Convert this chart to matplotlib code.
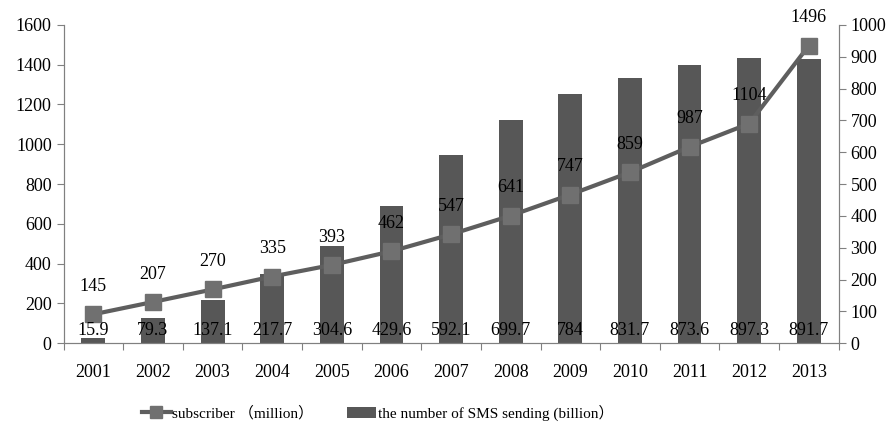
import matplotlib
matplotlib.use('Agg')
import matplotlib.pyplot as plt
from matplotlib.lines import Line2D
from matplotlib.patches import Patch
import numpy as np

plt.rcParams['font.family'] = ['Liberation Serif', 'Noto Sans CJK SC']

years = ['2001', '2002', '2003', '2004', '2005', '2006', '2007',
         '2008', '2009', '2010', '2011', '2012', '2013']
subscribers = [145, 207, 270, 335, 393, 462, 547, 641, 747, 859, 987, 1104, 1496]
sms_sent = [15.9, 79.3, 137.1, 217.7, 304.6, 429.6, 592.1,
            699.7, 784, 831.7, 873.6, 897.3, 891.7]

BAR_COLOR = '#575757'
LINE_COLOR = '#5e5e5e'
MARKER_COLOR = '#707070'
SPINE_COLOR = '#808080'

x = np.arange(len(years))

fig = plt.figure(figsize=(8.95, 4.3), dpi=100)
ax = fig.add_axes([0.071, 0.202, 0.866, 0.740])
ax2 = ax.twinx()

# bars on the right-hand axis
ax2.bar(x, sms_sent, width=0.4, color=BAR_COLOR, zorder=1)
ax2.set_ylim(0, 1000)
ax2.set_yticks(np.arange(0, 1001, 100))

# line on the left-hand axis, drawn above the bars
ax.set_zorder(ax2.get_zorder() + 1)
ax.patch.set_visible(False)
ax.plot(x, subscribers, color=LINE_COLOR, linewidth=3, marker='s', markersize=11,
        markerfacecolor=MARKER_COLOR, markeredgecolor=MARKER_COLOR)
ax.set_ylim(0, 1600)
ax.set_yticks(np.arange(0, 1601, 200))
ax.set_xlim(-0.5, len(years) - 0.5)

for xi, v in zip(x, subscribers):
    ax.annotate(str(v), (xi, v), xytext=(0, 14), textcoords='offset points',
                ha='center', va='bottom', fontsize=13, color='black')

for xi, v in zip(x, sms_sent):
    ax.text(xi, 0.04, f'{v:g}', transform=ax.get_xaxis_transform(),
            ha='center', va='center', fontsize=13, color='black')

# category ticks sit between the years
ax.set_xticks(np.arange(-0.5, len(years), 1.0))
ax.set_xticklabels([])
ax.set_xticks(x, minor=True)
ax.set_xticklabels(years, minor=True)
ax.tick_params(axis='x', which='minor', length=0, pad=15, labelsize=13)
ax.tick_params(axis='x', which='major', length=5, color=SPINE_COLOR)
ax.tick_params(axis='y', length=5, color=SPINE_COLOR, labelsize=13)
ax2.tick_params(axis='y', length=5, color=SPINE_COLOR, labelsize=13)

for a in (ax, ax2):
    a.spines['top'].set_visible(False)
    for s in ('left', 'right', 'bottom'):
        a.spines[s].set_color(SPINE_COLOR)

handles = [
    Line2D([], [], color=LINE_COLOR, linewidth=3, marker='s', markersize=9,
           markerfacecolor=MARKER_COLOR, markeredgecolor=MARKER_COLOR),
    Patch(facecolor=BAR_COLOR),
]
labels = ['subscriber （million）', 'the number of SMS sending (billion）']
fig.legend(handles, labels, loc='center', bbox_to_anchor=(0.422, 0.04), ncol=2,
           frameon=False, fontsize=11, handlelength=1.9, handletextpad=0.1,
           columnspacing=2.2)

fig.savefig('out.png', dpi=100)
plt.close(fig)
